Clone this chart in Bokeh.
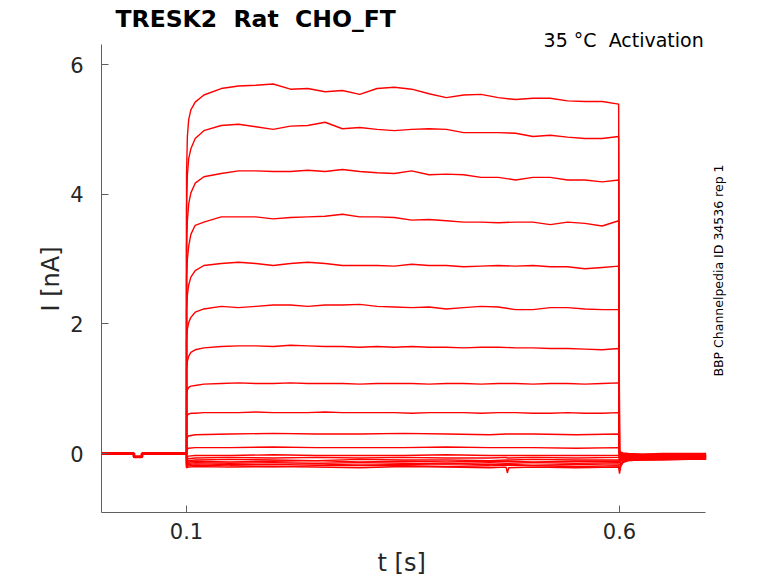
import numpy as np
from bokeh.plotting import figure
from bokeh.models import Label, FixedTicker, Title
from bokeh.embed import file_html
from bokeh.resources import INLINE

# ---------------- data ----------------
# holding segment before the step (shared by all sweeps)
t_pre = [0.0, 0.0392, 0.0393, 0.0485, 0.0486, 0.1]
i_pre = [0.0, 0.0, -0.05, -0.05, 0.0, 0.0]

# sample times during the step for the larger sweeps
t_step = [0.1, 0.101, 0.1025, 0.105, 0.11, 0.12,
          0.14, 0.16, 0.18, 0.20, 0.22, 0.24, 0.26, 0.28, 0.30, 0.32, 0.34,
          0.36, 0.38, 0.40, 0.42, 0.44, 0.46, 0.48, 0.50, 0.52, 0.54, 0.56,
          0.58, 0.599]

i_step_1 = [4.3, 4.9, 5.15, 5.3, 5.42, 5.53,
            5.63, 5.67, 5.68, 5.70, 5.62, 5.63, 5.58, 5.60, 5.54, 5.63, 5.65,
            5.62, 5.55, 5.49, 5.53, 5.54, 5.49, 5.46, 5.48, 5.48, 5.44, 5.43,
            5.43, 5.39]
i_step_2 = [3.8, 4.3, 4.55, 4.7, 4.86, 4.98,
            5.06, 5.08, 5.04, 5.00, 5.05, 5.06, 5.11, 5.01, 5.03, 5.00, 4.98,
            5.00, 5.01, 5.00, 4.95, 4.95, 4.95, 4.94, 4.89, 4.91, 4.88, 4.86,
            4.86, 4.89]
i_step_3 = [3.2, 3.6, 3.85, 4.02, 4.17, 4.27,
            4.32, 4.36, 4.36, 4.35, 4.35, 4.37, 4.35, 4.38, 4.35, 4.33, 4.32,
            4.36, 4.30, 4.31, 4.30, 4.26, 4.26, 4.22, 4.26, 4.26, 4.22, 4.22,
            4.19, 4.22]
i_step_4 = [2.7, 3.0, 3.2, 3.38, 3.52, 3.57,
            3.65, 3.65, 3.65, 3.62, 3.64, 3.65, 3.66, 3.69, 3.65, 3.65, 3.64,
            3.60, 3.61, 3.59, 3.57, 3.57, 3.56, 3.57, 3.57, 3.53, 3.57, 3.55,
            3.51, 3.59]
i_step_5 = [2.2, 2.45, 2.6, 2.72, 2.82, 2.90,
            2.93, 2.95, 2.93, 2.90, 2.93, 2.95, 2.93, 2.90, 2.90, 2.90, 2.89,
            2.92, 2.90, 2.90, 2.88, 2.89, 2.90, 2.89, 2.90, 2.88, 2.88, 2.85,
            2.87, 2.89]
i_step_6 = [1.75, 1.92, 2.02, 2.1, 2.18, 2.23,
            2.27, 2.25, 2.27, 2.29, 2.29, 2.27, 2.29, 2.29, 2.30, 2.27, 2.26,
            2.25, 2.26, 2.23, 2.25, 2.27, 2.26, 2.22, 2.22, 2.25, 2.25, 2.23,
            2.22, 2.22]
i_step_7 = [1.3, 1.42, 1.5, 1.56, 1.60, 1.63,
            1.65, 1.66, 1.66, 1.65, 1.67, 1.66, 1.65, 1.65, 1.64, 1.65, 1.64,
            1.65, 1.64, 1.64, 1.63, 1.64, 1.64, 1.63, 1.63, 1.62, 1.62, 1.61,
            1.60, 1.62]
i_step_8 = [0.9, 0.98, 1.02, 1.04, 1.05, 1.07,
            1.08, 1.09, 1.08, 1.08, 1.09, 1.08, 1.08, 1.08, 1.07, 1.08, 1.08,
            1.08, 1.07, 1.08, 1.08, 1.07, 1.08, 1.08, 1.07, 1.08, 1.08, 1.07,
            1.08, 1.09]
i_step_9 = [0.55, 0.59, 0.61, 0.62, 0.62, 0.63,
            0.63, 0.63, 0.64, 0.63, 0.63, 0.63, 0.64, 0.63, 0.63, 0.63, 0.63,
            0.62, 0.63, 0.63, 0.63, 0.62, 0.63, 0.63, 0.62, 0.62, 0.63, 0.62,
            0.62, 0.63]

# sample times during the step for the small sweeps
t_low = [0.1, 0.102, 0.11, 0.15, 0.2, 0.25, 0.3, 0.35, 0.4, 0.45,
         0.469, 0.4705, 0.472, 0.5, 0.55, 0.599]

i_low_10 = [0.22, 0.27, 0.29, 0.30, 0.31, 0.30, 0.30, 0.31, 0.30, 0.29, 0.30, 0.30, 0.30, 0.30, 0.29, 0.30]
i_low_11 = [0.05, 0.08, 0.09, 0.09, 0.10, 0.09, 0.09, 0.09, 0.10, 0.09, 0.09, 0.09, 0.09, 0.09, 0.08, 0.09]
i_low_12 = [-0.08, -0.04, -0.03, -0.03, -0.02, -0.03, -0.03, -0.03, -0.02, -0.03, -0.03, -0.03, -0.03, -0.03, -0.03, -0.03]
i_low_13 = [-0.12, -0.08, -0.07, -0.06, -0.07, -0.06, -0.07, -0.06, -0.07, -0.07, -0.06, -0.07, -0.07, -0.06, -0.07, -0.06]
i_low_14 = [-0.15, -0.11, -0.10, -0.09, -0.10, -0.11, -0.09, -0.10, -0.10, -0.11, -0.10, -0.10, -0.10, -0.09, -0.10, -0.10]
i_low_15 = [-0.17, -0.13, -0.12, -0.13, -0.12, -0.11, -0.13, -0.12, -0.13, -0.12, -0.12, -0.12, -0.12, -0.13, -0.12, -0.12]
i_low_16 = [-0.19, -0.15, -0.14, -0.15, -0.14, -0.15, -0.14, -0.15, -0.16, -0.14, -0.15, -0.15, -0.15, -0.14, -0.15, -0.14]
i_low_17 = [-0.20, -0.17, -0.16, -0.17, -0.17, -0.16, -0.18, -0.17, -0.16, -0.17, -0.17, -0.17, -0.17, -0.18, -0.17, -0.16]
i_low_18 = [-0.21, -0.19, -0.18, -0.19, -0.20, -0.19, -0.18, -0.19, -0.20, -0.19, -0.18, -0.18, -0.18, -0.19, -0.20, -0.19]
i_low_19 = [-0.22, -0.21, -0.20, -0.21, -0.20, -0.21, -0.22, -0.20, -0.21, -0.22, -0.21, -0.30, -0.22, -0.21, -0.22, -0.21]

# tail after the step
t_tail = [0.6, 0.6015, 0.604, 0.61, 0.625, 0.65, 0.68, 0.7]
i_tail_1 = [0.05, 0.02, 0.01, 0.0, -0.01, -0.02, -0.02, -0.02]
i_tail_2 = [0.03, 0.01, 0.0, -0.01, -0.02, -0.03, -0.03, -0.03]
i_tail_3 = [0.02, 0.0, -0.01, -0.02, -0.03, -0.03, -0.04, -0.04]
i_tail_4 = [0.0, -0.01, -0.02, -0.03, -0.04, -0.04, -0.04, -0.05]
i_tail_5 = [-0.02, -0.03, -0.03, -0.04, -0.04, -0.05, -0.05, -0.05]
i_tail_6 = [-0.04, -0.05, -0.05, -0.05, -0.05, -0.05, -0.06, -0.06]
i_tail_7 = [-0.06, -0.06, -0.06, -0.06, -0.06, -0.06, -0.06, -0.06]
i_tail_8 = [-0.10, -0.09, -0.08, -0.07, -0.07, -0.07, -0.07, -0.07]
i_tail_9 = [-0.12, -0.10, -0.09, -0.08, -0.08, -0.08, -0.08, -0.08]
i_tail_10 = [-0.08, -0.07, -0.06, -0.05, -0.05, -0.04, -0.04, -0.04]
i_tail_11 = [-0.06, -0.05, -0.04, -0.03, -0.03, -0.03, -0.03, -0.03]
i_tail_12 = [-0.04, -0.03, -0.02, -0.01, -0.01, 0.0, 0.0, 0.0]
i_tail_13 = [-0.05, -0.04, -0.03, -0.02, -0.02, -0.01, -0.01, -0.01]
i_tail_14 = [-0.08, -0.06, -0.05, -0.04, -0.03, -0.02, -0.02, -0.02]
i_tail_15 = [-0.11, -0.09, -0.08, -0.07, -0.06, -0.06, -0.05, -0.05]
i_tail_16 = [-0.14, -0.11, -0.10, -0.09, -0.08, -0.07, -0.07, -0.07]
i_tail_17 = [-0.18, -0.14, -0.12, -0.10, -0.09, -0.08, -0.08, -0.08]
i_tail_18 = [-0.24, -0.17, -0.13, -0.11, -0.10, -0.09, -0.09, -0.09]
i_tail_19 = [-0.31, -0.20, -0.14, -0.11, -0.10, -0.10, -0.09, -0.09]

x_ticks = [0.1, 0.6]
y_ticks = [0, 2, 4, 6]
x_axis_bounds = (0.0018, 0.6993)
y_axis_bounds = (-0.910, 6.308)

title_text = "TRESK2 \u00a0Rat \u00a0CHO_FT"
temp_text = "35 \u00b0C \u00a0Activation"
side_text = "BBP Channelpedia ID 34536 rep 1"
x_label = "t [s]"
y_label = "I [nA]"

# ---------------- figure ----------------
# the plotting frame reaches the top and right edges so that the texts placed
# there stay inside it; the axis lines are limited with bounds
p = figure(width=778, height=583, x_range=(0.0018, 0.7836),
           y_range=(-0.910, 6.988),
           output_backend="svg", toolbar_location=None,
           min_border_left=101, min_border_right=0, min_border_top=0,
           min_border_bottom=71)
p.outline_line_color = None
p.xgrid.visible = False
p.ygrid.visible = False
p.background_fill_color = "white"
p.border_fill_color = "white"

step_sweeps = [(i_step_1, i_tail_1), (i_step_2, i_tail_2), (i_step_3, i_tail_3),
               (i_step_4, i_tail_4), (i_step_5, i_tail_5), (i_step_6, i_tail_6),
               (i_step_7, i_tail_7), (i_step_8, i_tail_8), (i_step_9, i_tail_9)]
low_sweeps = [(i_low_10, i_tail_10), (i_low_11, i_tail_11), (i_low_12, i_tail_12),
              (i_low_13, i_tail_13), (i_low_14, i_tail_14), (i_low_15, i_tail_15),
              (i_low_16, i_tail_16), (i_low_17, i_tail_17), (i_low_18, i_tail_18),
              (i_low_19, i_tail_19)]

red = "#ff0000"
for ivals, itail in low_sweeps:
    xs = list(t_pre) + list(t_low) + list(t_tail)
    ys = list(i_pre) + list(ivals) + list(itail)
    p.line(xs, ys, line_color=red, line_width=1.4)
for ivals, itail in step_sweeps:
    xs = list(t_pre) + list(t_step) + list(t_tail)
    ys = list(i_pre) + list(ivals) + list(itail)
    p.line(xs, ys, line_color=red, line_width=1.4)
p.line(t_pre, i_pre, line_color=red, line_width=3)

# axes
for ax in (p.xaxis, p.yaxis):
    ax.axis_line_color = "#5f5f5f"
    ax.major_tick_line_color = "#5f5f5f"
    ax.major_tick_in = 7
    ax.major_tick_out = 0
    ax.minor_tick_line_color = None
    ax.major_label_text_font = "DejaVu Sans"
    ax.major_label_text_font_size = "21px"
    ax.major_label_text_color = "#262626"

p.xaxis.ticker = FixedTicker(ticks=x_ticks)
p.yaxis.ticker = FixedTicker(ticks=y_ticks)
p.xaxis.bounds = x_axis_bounds
p.yaxis.bounds = y_axis_bounds
p.xaxis.major_label_standoff = 10
p.yaxis.major_label_standoff = 18

# axis titles placed with offsets so they sit centred on the axis lines
xt = Title(text=x_label, align="left", offset=276, standoff=11,
           text_font="DejaVu Sans", text_font_size="24px",
           text_font_style="normal", text_color="#262626")
p.add_layout(xt, "below")
yt = Title(text=y_label, align="left", offset=201, standoff=5,
           text_font="DejaVu Sans", text_font_size="24px",
           text_font_style="normal", text_color="#262626")
p.add_layout(yt, "left")

p.add_layout(Label(x=0.0018, y=6.71, x_offset=14, text=title_text,
                   text_font="DejaVu Sans", text_font_size="23.5px",
                   text_font_style="bold", text_color="black",
                   text_align="left", text_baseline="alphabetic"))
p.add_layout(Label(x=0.6973, y=6.38, text=temp_text,
                   text_font="DejaVu Sans", text_font_size="19px",
                   text_color="black", text_align="right",
                   text_baseline="alphabetic"))
p.add_layout(Label(x=0.7143, y=2.823, text=side_text, angle=np.pi / 2,
                   text_font="DejaVu Sans", text_font_size="12.5px",
                   text_color="black", text_align="center",
                   text_baseline="middle"))

open("out.html", "w").write(file_html(p, INLINE))
